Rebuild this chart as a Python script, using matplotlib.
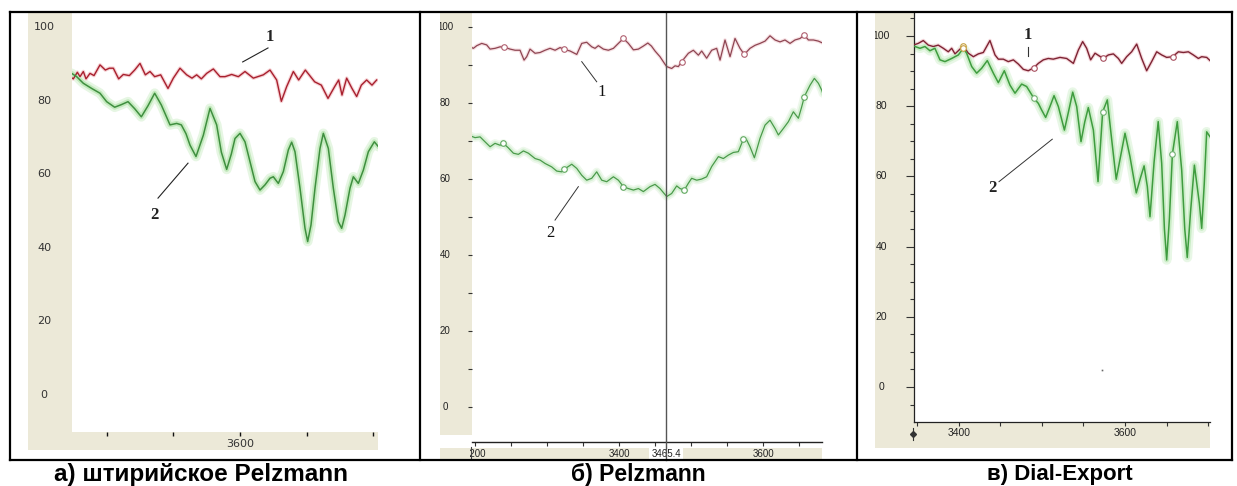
import matplotlib
matplotlib.use("Agg")
import matplotlib.pyplot as plt
from matplotlib.patches import Rectangle
from matplotlib.lines import Line2D
from matplotlib.transforms import Bbox, TransformedBbox, blended_transform_factory

# ---------------- data ----------------
captions = ["а) штирийское Pelzmann", "б) Pelzmann", "в) Dial-Export"]

a_red = [(3472.5, 86.5), (3475, 85.9), (3478, 87.7), (3480, 86.5), (3482.5, 87.9), (3484.5, 85.9),
         (3487.5, 87.4), (3490.5, 86.8), (3495, 89.7), (3499, 88.3), (3502, 88.8), (3505, 88.8),
         (3509, 85.9), (3512.5, 87.1), (3517, 86.8), (3521, 88.3), (3525, 90.1), (3529, 87.0),
         (3532.5, 87.9), (3536, 86.5), (3540.5, 87.0), (3546, 83.3), (3550, 86.1), (3555, 88.8),
         (3560, 87.0), (3564, 86.1), (3567.5, 87.0), (3571, 85.9), (3575, 87.4), (3580, 88.6),
         (3585, 86.5), (3588.75, 86.5), (3593.75, 87.1), (3598.75, 86.5), (3603.75, 87.9),
         (3610, 86.1), (3617.5, 87.0), (3622.5, 88.3), (3627.5, 85.6), (3631, 79.8), (3635, 83.8),
         (3640, 87.9), (3644, 85.6), (3649, 88.3), (3656, 85.1), (3661, 84.2), (3666, 80.6),
         (3671, 83.8), (3674, 85.6), (3676.5, 81.5), (3680, 86.1), (3684, 83.3), (3687.5, 81.1),
         (3691, 84.2), (3695, 85.6), (3699, 84.2), (3702.5, 85.6)]
a_green = [(3473.75, 87.4), (3477.5, 86.5), (3482.5, 84.7), (3488.75, 83.3), (3495, 82.0), (3500, 79.7),
           (3506, 78.2), (3511, 78.9), (3516, 79.7), (3521, 77.8), (3526, 75.6), (3531, 78.6),
           (3536, 82.0), (3541, 78.8), (3547.5, 73.4), (3552.5, 73.8), (3556, 73.4), (3559.5, 71.0),
           (3562.5, 67.9), (3567, 64.8), (3572.5, 70.6), (3577.5, 77.9), (3582.5, 73.4), (3586, 66.0),
           (3590, 61.3), (3593.5, 65.5), (3596.25, 69.7), (3600, 71.1), (3603.75, 68.8), (3607.5, 63.4),
           (3611.25, 58.0), (3615, 55.7), (3618.75, 57.1), (3622.5, 58.9), (3625, 59.3), (3628.75, 57.5),
           (3632.5, 60.7), (3636.25, 66.6), (3638.75, 68.7), (3641.25, 66.1), (3645, 56.2), (3648.75, 45.3),
           (3650.75, 41.7), (3653.25, 46.2), (3656.25, 56.2), (3660, 67.0), (3662.5, 71.1), (3666.25, 67.0),
           (3670, 56.2), (3673.75, 47.1), (3676.25, 45.3), (3678.75, 48.9), (3682.5, 56.2), (3685, 59.3),
           (3688.75, 57.5), (3692.5, 61.1), (3696.25, 66.1), (3700.75, 68.8), (3703.75, 67.5)]

b_red = [(3195.5, 94.6), (3197.7, 94.4), (3202.4, 95.1), (3209.3, 95.7), (3216.2, 95.3), (3220.9, 94.2),
         (3227.8, 94.4), (3234.8, 94.8), (3240.8, 94.7), (3248.7, 94.2), (3255.6, 93.9), (3262.5, 93.9),
         (3268.1, 91.3), (3271.8, 92.2), (3276.4, 94.2), (3283.4, 93.1), (3290.3, 93.3), (3297.3, 93.9),
         (3304.2, 94.4), (3311.2, 93.9), (3318.1, 94.6), (3324.1, 94.1), (3332.0, 93.7), (3341.3, 92.8),
         (3348.2, 95.7), (3355.1, 96.0), (3362.1, 94.8), (3366.7, 94.4), (3371.3, 95.1), (3378.3, 94.2),
         (3385.2, 93.9), (3392.2, 94.4), (3399.1, 95.7), (3406.1, 97.0), (3413.0, 95.7), (3420.0, 94.0),
         (3426.9, 94.2), (3433.8, 95.0), (3440.0, 95.8), (3445.0, 95.0), (3450.0, 93.7), (3456.9, 92.2),
         (3463.9, 90.2), (3466.2, 89.6), (3473.1, 89.1), (3477.8, 89.8), (3482.4, 89.6), (3487.0, 90.9),
         (3496.3, 93.1), (3503.2, 93.9), (3510.2, 92.6), (3514.8, 93.7), (3521.7, 91.8), (3528.7, 93.9),
         (3535.6, 94.4), (3540.3, 91.3), (3547.2, 96.6), (3554.2, 92.2), (3561.1, 97.0), (3568.0, 94.4),
         (3574.0, 92.8), (3581.9, 94.4), (3588.9, 95.2), (3595.8, 95.7), (3602.8, 96.3), (3609.7, 97.7),
         (3616.7, 96.6), (3623.6, 96.1), (3630.5, 96.6), (3637.5, 95.7), (3644.4, 96.6), (3651.4, 97.0),
         (3657.4, 97.9), (3663.0, 96.6), (3670.0, 96.6), (3676.9, 96.3), (3683.8, 95.7)]
b_green = [(3193.1, 71.4), (3200.0, 70.9), (3207.0, 71.1), (3213.9, 69.8), (3220.9, 68.5), (3227.8, 69.4),
           (3234.8, 68.9), (3239.4, 69.4), (3246.3, 68.2), (3253.3, 66.8), (3260.2, 66.5), (3267.2, 67.4),
           (3274.1, 66.8), (3283.4, 65.4), (3290.3, 65.0), (3297.3, 64.1), (3306.5, 63.2), (3313.5, 62.1),
           (3320.4, 61.9), (3324.1, 62.6), (3334.3, 63.9), (3341.3, 62.8), (3348.2, 61.0), (3355.1, 59.7),
           (3362.1, 60.2), (3369.0, 61.9), (3376.0, 59.7), (3382.9, 59.3), (3392.2, 60.6), (3399.1, 59.7),
           (3406.1, 58.0), (3413.0, 57.5), (3420.0, 57.1), (3426.9, 57.5), (3433.8, 56.7), (3443.0, 58.0),
           (3450.0, 58.6), (3456.9, 57.5), (3466.2, 55.4), (3473.1, 56.2), (3480.1, 58.2), (3484.7, 57.5),
           (3490.7, 57.1), (3496.3, 58.9), (3500.9, 60.2), (3507.9, 59.7), (3514.8, 60.0), (3521.7, 60.6),
           (3528.7, 63.3), (3538.0, 65.9), (3544.9, 65.4), (3551.8, 66.3), (3558.8, 67.0), (3565.7, 67.2),
           (3572.7, 70.5), (3577.3, 70.3), (3581.9, 68.5), (3588.0, 65.6), (3595.8, 70.7), (3602.8, 74.2),
           (3609.7, 75.5), (3616.7, 73.3), (3621.3, 71.6), (3628.2, 73.3), (3635.2, 75.1), (3642.1, 77.7),
           (3649.1, 76.0), (3653.7, 79.0), (3657.4, 81.7), (3665.3, 84.7), (3671.3, 86.5), (3676.9, 85.2),
           (3681.5, 83.4), (3683.0, 82.5)]
b_red_marks = [(3240.8, 94.7), (3324.1, 94.1), (3406.1, 97.0), (3487.0, 90.9), (3574.0, 92.8), (3657.4, 97.9)]
b_green_marks = [(3239.4, 69.4), (3324.1, 62.6), (3406.1, 58.0), (3490.7, 57.1), (3572.7, 70.5), (3657.4, 81.7)]
b_cursor = 3465.4

c_red = [(3345.0, 97.4), (3351.0, 97.9), (3357.0, 98.7), (3363.0, 97.4), (3369.0, 97.0), (3375.0, 97.4),
         (3381.1, 96.5), (3387.1, 95.5), (3391.2, 96.5), (3395.2, 94.9), (3399.2, 95.8), (3405.2, 97.2),
         (3411.2, 95.1), (3417.3, 94.1), (3423.3, 94.9), (3429.3, 95.3), (3437.3, 98.7), (3443.4, 94.6),
         (3447.4, 93.4), (3453.4, 93.4), (3459.4, 92.7), (3465.5, 93.2), (3471.5, 92.0), (3477.5, 90.5),
         (3483.5, 90.1), (3490.4, 91.0), (3495.6, 92.2), (3501.6, 93.2), (3507.6, 93.6), (3513.6, 93.4),
         (3521.7, 93.9), (3529.7, 93.6), (3537.8, 92.2), (3543.8, 96.0), (3549.0, 98.4), (3553.8, 96.5),
         (3558.6, 93.2), (3563.9, 95.1), (3569.1, 94.3), (3573.9, 93.6), (3579.9, 94.6), (3586.0, 94.9),
         (3592.0, 93.6), (3596.0, 92.2), (3602.0, 94.1), (3608.0, 95.5), (3614.1, 97.7), (3620.1, 93.6),
         (3626.1, 90.1), (3632.1, 92.7), (3638.2, 95.5), (3644.2, 94.6), (3650.2, 93.9), (3657.4, 94.1),
         (3664.3, 95.5), (3670.3, 95.3), (3676.3, 95.5), (3682.3, 94.6), (3688.4, 93.6), (3692.4, 94.1),
         (3698.4, 93.9), (3702.4, 93.0)]
c_green = [(3341.0, 97.4), (3347.0, 97.0), (3353.0, 96.5), (3359.0, 97.0), (3365.0, 95.8), (3371.0, 96.5),
           (3377.1, 93.2), (3383.1, 92.7), (3391.2, 93.6), (3399.2, 94.6), (3405.2, 96.5), (3409.2, 95.1),
           (3415.3, 91.3), (3421.3, 89.4), (3427.3, 90.8), (3434.1, 93.0), (3441.4, 89.4), (3447.4, 86.7),
           (3454.6, 90.1), (3461.4, 86.0), (3467.5, 83.7), (3475.5, 86.3), (3481.5, 85.6), (3490.4, 82.2),
           (3495.6, 80.8), (3499.6, 78.9), (3504.4, 76.8), (3509.6, 79.9), (3514.5, 83.0), (3519.7, 79.9),
           (3527.0, 73.2), (3532.0, 78.5), (3537.0, 84.0), (3541.8, 79.9), (3547.0, 69.9), (3551.5, 75.5),
           (3555.8, 79.6), (3561.9, 73.2), (3567.5, 58.5), (3573.1, 78.4), (3578.7, 81.8), (3584.0, 70.4),
           (3589.4, 59.2), (3594.5, 65.5), (3600.0, 72.3), (3606.0, 65.6), (3613.6, 55.3), (3618.5, 59.5),
           (3623.0, 63.0), (3626.9, 57.1), (3630.1, 48.5), (3635.0, 64.0), (3640.0, 75.6), (3644.2, 63.7),
           (3647.5, 45.0), (3650.2, 36.2), (3653.5, 48.0), (3657.1, 66.4), (3663.0, 75.6), (3668.3, 61.8),
           (3672.0, 45.0), (3675.0, 36.9), (3679.0, 50.0), (3683.6, 63.2), (3689.6, 52.3), (3692.4, 45.2),
           (3695.5, 58.0), (3698.4, 72.7), (3702.4, 71.3)]
c_red_marks = [(3490.4, 91.0), (3573.9, 93.6), (3657.4, 94.1)]
c_green_marks = [(3490.4, 82.2), (3573.1, 78.4), (3657.1, 66.4)]
c_yellow_marks = [(3405.2, 97.2), (3405.2, 96.5)]

yticks_main = [0, 20, 40, 60, 80, 100]
ylabels_main = ["0", "20", "40", "60", "80", "100"]
a_xticks = [3500, 3550, 3600, 3650, 3700]
a_xlabels = ["", "", "3600", "", ""]
b_xticks = [3200, 3250, 3300, 3350, 3400, 3450, 3500, 3550, 3600, 3650]
b_xlabels = ["3200", "", "", "", "3400", "", "", "", "3600", ""]
b_yminor = [10, 30, 50, 70, 90]
c_xticks = [3350, 3400, 3450, 3500, 3550, 3600, 3650, 3700]
c_xlabels = ["", "3400", "", "", "", "3600", "", ""]
c_yminor = [-5, 5, 10, 15, 25, 30, 35, 45, 50, 55, 65, 70, 75, 85, 90, 95, 105]

# ---------------- figure ----------------
W, H = 1237, 486
fig = plt.figure(figsize=(W / 100, H / 100), dpi=100)
fig.patch.set_facecolor("white")
BEIGE = "#ece9d8"


def bbox_px(x0, y0, x1, y1):
    return TransformedBbox(Bbox([[x0 / W, 1 - y1 / H], [x1 / W, 1 - y0 / H]]), fig.transFigure)


def rect(x0, y0, x1, y1, color=BEIGE, z=-5):
    fig.add_artist(Rectangle((x0 / W, 1 - y1 / H), (x1 - x0) / W, (y1 - y0) / H,
                             transform=fig.transFigure, facecolor=color, edgecolor="none", zorder=z))


def axes_px(x0, y0, x1, y1):
    ax = fig.add_axes([x0 / W, 1 - y1 / H, (x1 - x0) / W, (y1 - y0) / H])
    ax.set_facecolor("white")
    for s in ax.spines.values():
        s.set_visible(False)
    return ax


def ylabels(ax, ticks, labels, cx, clip, **kw):
    tr = blended_transform_factory(fig.transFigure, ax.transData)
    for v, s in zip(ticks, labels):
        t = ax.text(cx / W, v, s, transform=tr, ha="center", va="center", **kw)
        t.set_clip_box(clip)
        t.set_clip_on(True)


def xlabels(ax, ticks, labels, cy, clip, **kw):
    tr = blended_transform_factory(ax.transData, fig.transFigure)
    for v, s in zip(ticks, labels):
        if not s:
            continue
        t = ax.text(v, 1 - cy / H, s, transform=tr, ha="center", va="center", **kw)
        t.set_clip_box(clip)
        t.set_clip_on(True)


def curve(ax, pts, core, halo, lw, hlw, halo2=None, h2lw=0):
    xs = [p[0] for p in pts]
    ys = [p[1] for p in pts]
    if halo2:
        ax.plot(xs, ys, color=halo2, lw=h2lw, solid_capstyle="round", solid_joinstyle="round", zorder=1.5)
    ax.plot(xs, ys, color=halo, lw=hlw, solid_capstyle="round", solid_joinstyle="round", zorder=2)
    ax.plot(xs, ys, color=core, lw=lw, solid_joinstyle="round", zorder=3)


def marks(ax, pts, color, face="white", size=4):
    ax.plot([p[0] for p in pts], [p[1] for p in pts], "o", ms=size, mfc=face, mec=color, mew=0.8,
            ls="none", zorder=4)


# ----- panel a -----
rect(28, 13, 72, 450)
rect(28, 432, 378, 450)
ax_a = axes_px(72, 13, 378, 432)
ax_a.set_xlim(3474, 3703.5)
ax_a.set_ylim(-10.05, 103.8)
ax_a.set_yticks([])
ax_a.set_xticks(a_xticks)
ax_a.set_xticklabels([])
ax_a.tick_params(axis="x", direction="out", length=3, width=1, color="#111")
curve(ax_a, a_red, "#a8202e", "#f6d2d5", 1.0, 2.6)
curve(ax_a, a_green, "#3f8f3f", "#c2e9bc", 1.1, 3.6, "#e6f6e3", 7)
ylabels(ax_a, yticks_main, ylabels_main, 44, bbox_px(28, 13, 72, 450),
        fontsize=8, color="#333333", family="DejaVu Sans")
xlabels(ax_a, a_xticks, a_xlabels, 443.5, bbox_px(28, 432, 378, 450),
        fontsize=8, color="#333333", family="DejaVu Sans")
ax_a.plot([3621, 3602], [94.3, 90.5], color="#222", lw=0.8)
ax_a.plot([3538.5, 3561], [53.5, 63.0], color="#222", lw=0.8)
ax_a.text(3622.5, 97.3, "1", ha="center", va="center", fontsize=12, fontweight="bold",
          family="Liberation Serif", color="#222")
ax_a.text(3535.5, 48.9, "2", ha="center", va="center", fontsize=12, fontweight="bold",
          family="Liberation Serif", color="#222")

# ----- panel b -----
rect(440, 13, 472, 435)
rect(440, 448, 822, 460)
ax_b = axes_px(472, 13, 822, 442)
ax_b.set_xlim(3195.8, 3681.9)
ax_b.set_ylim(-9.2, 103.7)
ax_b.spines["bottom"].set_visible(True)
ax_b.spines["bottom"].set_color("#222")
ax_b.spines["bottom"].set_linewidth(1.0)
ax_b.set_yticks(yticks_main)
ax_b.set_yticks(b_yminor, minor=True)
ax_b.set_yticklabels([])
ax_b.set_xticks(b_xticks)
ax_b.set_xticklabels([])
ax_b.tick_params(axis="both", which="both", direction="out", length=3, width=0.8, color="#333")
curve(ax_b, b_red, "#8e4552", "#f6e0e3", 0.9, 2.6)
curve(ax_b, b_green, "#4a9a4a", "#d5efd3", 0.9, 3.5, "#eef8ec", 6)
marks(ax_b, b_red_marks, "#b06070")
marks(ax_b, b_green_marks, "#60a860")
ax_b.axvline(b_cursor, color="#555555", lw=1.0, zorder=5)
fig.add_artist(Line2D([b_cursor, b_cursor], [1 - 442 / H, 1 - 460 / H],
                      transform=blended_transform_factory(ax_b.transData, fig.transFigure),
                      color="#555555", lw=1.0, zorder=6))
ylabels(ax_b, yticks_main, ylabels_main, 445, bbox_px(440, 13, 472, 435),
        fontsize=7, color="#222", family="Liberation Sans")
xlabels(ax_b, b_xticks, b_xlabels, 454, bbox_px(470, 448, 822, 460),
        fontsize=7, color="#222", family="Liberation Sans")
ax_b.text(b_cursor, 1 - 454 / H, "3465.4", ha="center", va="center", fontsize=7, color="#222",
          family="Liberation Sans", transform=blended_transform_factory(ax_b.transData, fig.transFigure),
          bbox=dict(facecolor="white", edgecolor="none", pad=1.5), clip_on=False, zorder=5)
fig.add_artist(Line2D([470.5 / W, 470.5 / W], [1 - 447 / H, 1 - 458 / H], transform=fig.transFigure,
                      color="#444", lw=0.8, zorder=6))
ax_b.plot([3348.2, 3369], [90.9, 85.6], color="#333", lw=0.7)
ax_b.plot([3311.1, 3343.5], [49.2, 58.0], color="#333", lw=0.7)
ax_b.text(3376, 83.0, "1", ha="center", va="center", fontsize=12, family="Liberation Serif", color="#111")
ax_b.text(3305.1, 45.7, "2", ha="center", va="center", fontsize=12, family="Liberation Serif", color="#111")

# ----- panel c -----
rect(875, 13, 914, 448)
rect(875, 422, 1210, 448)
ax_c = axes_px(914, 13, 1210, 422)
ax_c.set_xlim(3345.8, 3702.4)
ax_c.set_ylim(-9.97, 106.55)
for side in ("left", "bottom"):
    ax_c.spines[side].set_visible(True)
    ax_c.spines[side].set_color("#222")
    ax_c.spines[side].set_linewidth(0.9)
ax_c.set_yticks(yticks_main)
ax_c.set_yticks(c_yminor, minor=True)
ax_c.set_yticklabels([])
ax_c.set_xticks(c_xticks)
ax_c.set_xticklabels([])
ax_c.tick_params(axis="y", which="major", direction="out", length=6, width=0.8, color="#333")
ax_c.tick_params(axis="y", which="minor", direction="out", length=3, width=0.8, color="#333")
ax_c.tick_params(axis="x", which="major", direction="out", length=3, width=0.8, color="#333")
curve(ax_c, c_red, "#7d2333", "#f5d8dc", 1.0, 2.6)
curve(ax_c, c_green, "#3f9c3f", "#c8ecc4", 1.1, 3.6, "#e8f7e6", 7)
marks(ax_c, c_red_marks, "#a85060")
marks(ax_c, c_green_marks, "#70b070")
marks(ax_c, c_yellow_marks, "#c8a040")
ax_c.plot([3572], [4.8], "s", ms=1.2, color="#666", mec="none")
ylabels(ax_c, yticks_main, ylabels_main, 881, bbox_px(875, 13, 914, 448),
        fontsize=7.5, color="#222", family="Liberation Sans")
xlabels(ax_c, c_xticks, c_xlabels, 433, bbox_px(875, 422, 1210, 448),
        fontsize=7.5, color="#222", family="Liberation Sans")
fig.add_artist(Line2D([913 / W, 913 / W], [1 - 428 / H, 1 - 440 / H], transform=fig.transFigure,
                      color="#333", lw=0.8, zorder=6))
fig.add_artist(Line2D([913 / W], [1 - 434 / H], transform=fig.transFigure, marker="D", ms=3,
                      color="#333", zorder=6))
ax_c.plot([3482.7, 3482.7], [97.0, 94.3], color="#333", lw=0.8)
ax_c.plot([3448.2, 3512.4], [58.5, 70.6], color="#333", lw=0.7)
ax_c.text(3483.5, 100.3, "1", ha="center", va="center", fontsize=12, fontweight="bold",
          family="Liberation Serif", color="#222")
ax_c.text(3440, 56.6, "2", ha="center", va="center", fontsize=12, fontweight="bold",
          family="Liberation Serif", color="#222")


# ----- table frame -----
def hline(y, x0, x1):
    fig.add_artist(Line2D([x0 / W, x1 / W], [1 - y / H, 1 - y / H], transform=fig.transFigure,
                          color="black", lw=1.6, zorder=10))


def vline(x, y0, y1):
    fig.add_artist(Line2D([x / W, x / W], [1 - y0 / H, 1 - y1 / H], transform=fig.transFigure,
                          color="black", lw=1.6, zorder=10))


hline(12, 10, 1232)
hline(460, 10, 1232)
for xv in (10, 420, 857, 1232):
    vline(xv, 12, 460)

# ----- captions -----
for cx, size, cap in zip((201, 638, 1060), (17.5, 16.5, 16), captions):
    fig.text(cx / W, 1 - 474 / H, cap, ha="center", va="center", fontsize=size, fontweight="bold",
             family="Liberation Sans", color="black")

fig.savefig("out.png", dpi=100, facecolor="white")
